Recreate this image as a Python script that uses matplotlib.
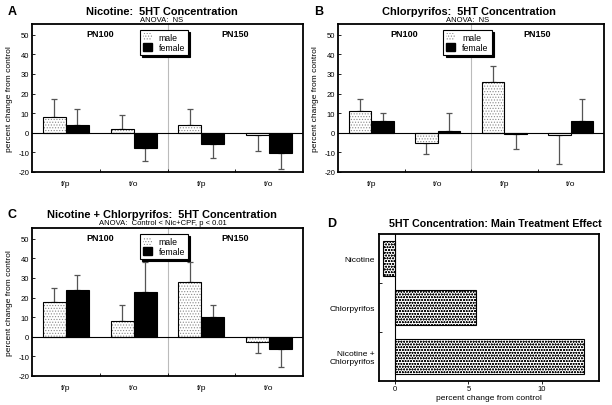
import numpy as np
import matplotlib
matplotlib.use("Agg")
import matplotlib.pyplot as plt

plt.rcParams["font.family"] = ["Liberation Sans", "DejaVu Sans"]
plt.rcParams["axes.unicode_minus"] = False
plt.rcParams["hatch.linewidth"] = 0.5

# ── data ─────────────────────────────────────────────
regions = ["f/p", "t/o", "f/p", "t/o"]
ages = ["PN100", "PN150"]

nic_male = [8, 2, 4, -1]
nic_male_err = [9, 7, 8, 8.5]
nic_female = [4, -8, -5.5, -10.2]
nic_female_err = [8, 6.5, 7.5, 8.3]

cpf_male = [11, -5, 26, -1]
cpf_male_err = [6, 6, 8, 15]
cpf_female = [6, 1, -0.5, 6]
cpf_female_err = [4, 9, 8, 11]

nc_male = [18, 8, 28, -2.5]
nc_male_err = [7, 8, 10, 6]
nc_female = [24, 23, 10, -6.3]
nc_female_err = [7.5, 15, 6, 9]

treatments = ["Nicotine", "Chlorpyrifos", "Nicotine +\nChlorpyrifos"]
main_effect = [-0.8, 5.5, 12.9]

W, H = 612, 406
ERR_COLOR = "#555555"
DOT_COLOR = "#8a8a8a"


def px_axes(fig, left, top, right, bottom):
    return fig.add_axes([left / W, 1 - bottom / H, (right - left) / W, (bottom - top) / H])


def one_sided(vals, errs):
    lo = [e if v < 0 else 0 for v, e in zip(vals, errs)]
    hi = [e if v >= 0 else 0 for v, e in zip(vals, errs)]
    return [lo, hi]


def panel(ax, male, male_err, female, female_err):
    x = np.arange(len(regions))
    w = 0.34
    # dotted fill first, then black outline on top
    ax.bar(x - w / 2, male, w, color="white", edgecolor=DOT_COLOR, hatch="......",
           linewidth=0, zorder=2)
    ax.bar(x - w / 2, male, w, fill=False, edgecolor="black", linewidth=0.8, zorder=2)
    ax.bar(x + w / 2, female, w, color="black", edgecolor="black",
           linewidth=0.8, zorder=2)
    ax.errorbar(x - w / 2, male, yerr=one_sided(male, male_err), fmt="none",
                ecolor=ERR_COLOR, elinewidth=0.9, capsize=2.5, capthick=0.9, zorder=1)
    ax.errorbar(x + w / 2, female, yerr=one_sided(female, female_err), fmt="none",
                ecolor=ERR_COLOR, elinewidth=0.9, capsize=2.5, capthick=0.9, zorder=1)
    ax.axhline(0, color="black", linewidth=0.8, zorder=3)
    ax.axvline(1.5, color="#bbbbbb", linewidth=0.8, zorder=0)
    ax.set_xlim(-0.5, 3.5)
    ax.set_ylim(-20, 55.5)
    ax.set_yticks(range(-20, 51, 10))
    ax.set_xticks(x)
    ax.set_xticklabels(regions, fontsize=6)
    ax.set_xticks([0.5, 1.5, 2.5], minor=True)
    ax.tick_params(axis="x", which="major", length=0, pad=6)
    ax.tick_params(axis="x", which="minor", direction="in", length=2, width=0.6)
    ax.tick_params(axis="y", direction="in", length=2.5, width=0.6, labelsize=5.5, pad=2)
    ax.set_ylabel("percent change from control", fontsize=6, labelpad=4)
    for s in ax.spines.values():
        s.set_linewidth(1.3)
    ax.text(0.5, 53, ages[0], ha="center", va="top", fontsize=6.5, fontweight="bold")
    ax.text(2.5, 53, ages[1], ha="center", va="top", fontsize=6.5, fontweight="bold")
    h_male = plt.Rectangle((0, 0), 1, 1, facecolor="white", edgecolor=DOT_COLOR,
                           hatch="......", linewidth=0)
    h_female = plt.Rectangle((0, 0), 1, 1, facecolor="black", edgecolor="black")
    leg = ax.legend([h_male, h_female], ["male", "female"], loc="upper center",
                    bbox_to_anchor=(0.487, 0.99), fontsize=6.3, fancybox=False,
                    shadow={"color": "black", "alpha": 1, "ox": 1.5, "oy": -1.5},
                    framealpha=1, edgecolor="black", handlelength=1.0, handleheight=1.0,
                    handletextpad=0.8, borderpad=0.35, labelspacing=0.1)
    leg.get_frame().set_linewidth(0.8)


fig = plt.figure(figsize=(W / 100, H / 100), dpi=100)
fig.patch.set_facecolor("white")

axA = px_axes(fig, 32, 25, 303, 173)
panel(axA, nic_male, nic_male_err, nic_female, nic_female_err)
axB = px_axes(fig, 338, 25, 604, 173)
panel(axB, cpf_male, cpf_male_err, cpf_female, cpf_female_err)
axC = px_axes(fig, 32, 229, 303, 377)
panel(axC, nc_male, nc_male_err, nc_female, nc_female_err)

# ── panel D ──────────────────────────────────────────
axD = px_axes(fig, 379, 235, 599, 382)
yD = np.arange(len(treatments))
axD.barh(yD, main_effect, 0.72, color="white", edgecolor="#111111", hatch="oooooo",
         linewidth=0, zorder=2)
axD.barh(yD, main_effect, 0.72, fill=False, edgecolor="black", linewidth=0.8, zorder=2)
axD.axvline(0, color="black", linewidth=0.8, zorder=3)
axD.set_ylim(2.5, -0.5)
axD.set_xlim(-1.1, 13.9)
axD.set_yticks(yD)
axD.set_yticklabels(treatments, fontsize=6)
axD.set_yticks([0.5, 1.5], minor=True)
axD.tick_params(axis="y", which="major", length=0, pad=3)
axD.tick_params(axis="y", which="minor", direction="in", length=2, width=0.6)
axD.set_xticks([0, 5, 10])
axD.tick_params(axis="x", direction="out", length=2, width=0.6, labelsize=5.5, pad=1)
axD.set_xlabel("percent change from control", fontsize=6, labelpad=1)
for s in axD.spines.values():
    s.set_linewidth(1.3)

# ── titles ───────────────────────────────────────────
def ftext(x, y, s, **kw):
    fig.text(x / W, 1 - y / H, s, ha=kw.pop("ha", "center"), va="center", **kw)

ftext(8, 12, "A", fontsize=9, fontweight="bold", ha="left")
ftext(314, 12, "B", fontsize=9, fontweight="bold", ha="left")
ftext(8, 215, "C", fontsize=9, fontweight="bold", ha="left")
ftext(327, 224, "D", fontsize=9, fontweight="bold", ha="left")

ftext(162, 12, "Nicotine:  5HT Concentration", fontsize=7.9, fontweight="bold")
ftext(162, 21, "ANOVA:  NS", fontsize=5.5)
ftext(469, 12, "Chlorpyrifos:  5HT Concentration", fontsize=7.9, fontweight="bold")
ftext(468, 21, "ANOVA:  NS", fontsize=5.5)
ftext(162, 215, "Nicotine + Chlorpyrifos:  5HT Concentration", fontsize=7.9, fontweight="bold")
ftext(163, 224, "ANOVA:  Control < Nic+CPF, p < 0.01", fontsize=5.5)
ftext(495, 224, "5HT Concentration: Main Treatment Effect", fontsize=7.7, fontweight="bold")

fig.savefig("out.png", dpi=100, facecolor="white")
